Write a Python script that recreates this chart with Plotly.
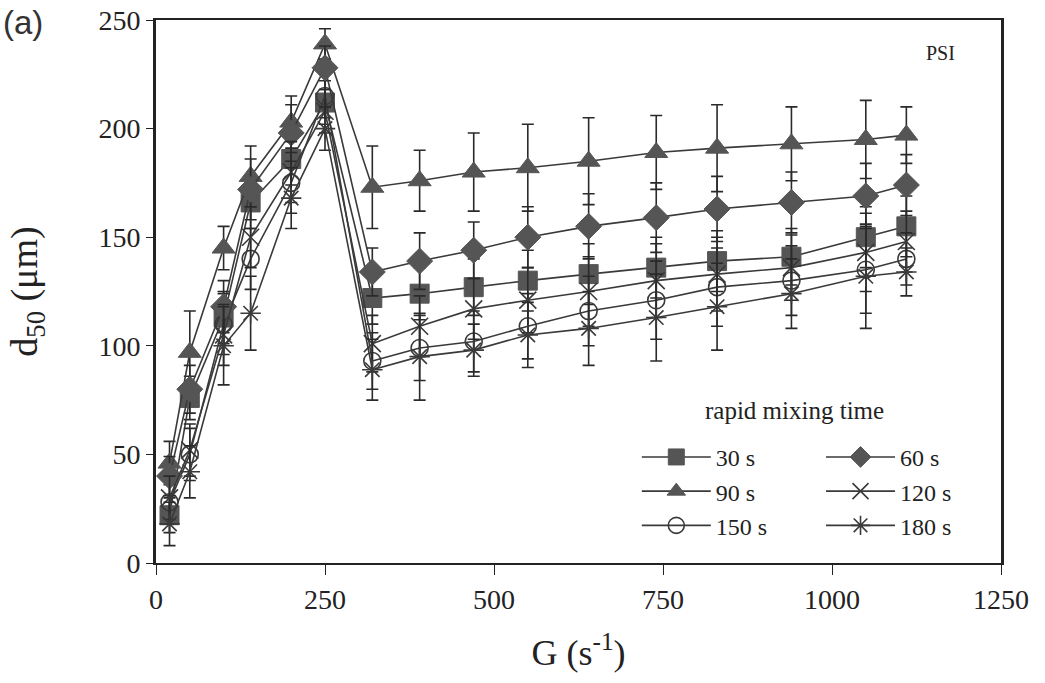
import plotly.graph_objects as go

G = [20, 50, 100, 140, 200, 250, 320, 390, 470, 550, 640, 740, 830, 940, 1050, 1110]

d30 = [22, 76, 113, 166, 186, 212, 122, 124, 127, 130, 133, 136, 139, 141, 150, 155]
e30 = [8, 10, 12, 12, 12, 10, 12, 12, 13, 14, 14, 14, 14, 13, 14, 14]
d60 = [40, 80, 118, 172, 198, 228, 134, 139, 144, 150, 155, 159, 163, 166, 169, 174]
e60 = [9, 11, 12, 14, 13, 10, 11, 13, 13, 14, 15, 16, 15, 14, 15, 14]
d90 = [46, 97, 145, 178, 203, 239, 173, 176, 180, 182, 185, 189, 191, 193, 195, 197]
e90 = [10, 19, 10, 14, 12, 7, 19, 14, 18, 20, 20, 17, 20, 17, 18, 13]
d120 = [30, 52, 105, 150, 180, 208, 101, 109, 117, 121, 125, 130, 133, 136, 143, 148]
e120 = [10, 12, 14, 14, 14, 10, 13, 14, 14, 15, 16, 17, 17, 15, 18, 14]
d150 = [28, 50, 110, 140, 175, 215, 93, 99, 102, 109, 116, 121, 127, 130, 135, 140]
e150 = [10, 12, 14, 14, 14, 10, 13, 15, 14, 15, 16, 18, 18, 16, 20, 12]
d180 = [18, 42, 100, 115, 168, 200, 89, 95, 98, 105, 108, 113, 118, 124, 132, 134]
e180 = [10, 12, 18, 17, 14, 10, 14, 20, 12, 15, 17, 20, 20, 16, 24, 11]

labels = ["30 s", "60 s", "90 s", "120 s", "150 s", "180 s"]

LINE = "#3a3a3a"
FILL = "#555555"
SERIF = "Liberation Serif, Times New Roman, serif"

series = [
    (labels[0], d30, e30, "square", 19, FILL, 1, "legend"),
    (labels[2], d90, e90, "triangle-up", 20, FILL, 1, "legend"),
    (labels[4], d150, e150, "circle-open", 17, LINE, 1.6, "legend"),
    (labels[1], d60, e60, "diamond", 20, FILL, 1, "legend2"),
    (labels[3], d120, e120, "x-thin-open", 17, LINE, 1.6, "legend2"),
    (labels[5], d180, e180, "asterisk-open", 17, LINE, 1.6, "legend2"),
]

fig = go.Figure()
for i, (name, y, e, sym, size, col, lw, leg) in enumerate(series):
    fig.add_trace(go.Scatter(
        x=G, y=y, name=name, mode="lines+markers",
        line=dict(color=LINE, width=1.6),
        marker=dict(symbol=sym, size=size, color=col,
                    line=dict(color=col, width=lw)),
        error_y=dict(type="data", array=e, visible=True,
                     color="#2a2a2a", thickness=1.6, width=6),
        legend=leg, legendgroup="g%d" % i,
    ))

fig.update_layout(
    width=1045, height=683,
    margin=dict(l=156, r=44, t=20, b=120, autoexpand=False),
    paper_bgcolor="white", plot_bgcolor="white",
    font=dict(family=SERIF, color="#222222", size=24),
    xaxis=dict(range=[0, 1250], dtick=250, showgrid=False, zeroline=False,
               showline=True, linecolor="#222222", linewidth=2, mirror=True,
               ticks="outside", ticklen=10, tickcolor="#222222", automargin=False,
               tickfont=dict(family=SERIF, size=28), ticklabeloverflow="allow",
               title=dict(text="G (s<sup>-1</sup>)", font=dict(family=SERIF, size=36),
                          standoff=26)),
    yaxis=dict(range=[0, 250], dtick=50, showgrid=False, zeroline=False,
               showline=True, linecolor="#222222", linewidth=3, mirror=True,
               ticks="outside", ticklen=7, tickcolor="#222222", automargin=False,
               tickfont=dict(family=SERIF, size=28), ticklabeloverflow="allow",
               title=dict(text="d<sub>50</sub> (μm)", font=dict(family=SERIF, size=38),
                          standoff=50)),
    legend=dict(x=0.569, y=0.236, xanchor="left", yanchor="top",
                bgcolor="rgba(0,0,0,0)", font=dict(family=SERIF, size=24),
                traceorder="grouped", tracegroupgap=0, itemwidth=69),
    legend2=dict(x=0.787, y=0.236, xanchor="left", yanchor="top",
                 bgcolor="rgba(0,0,0,0)", font=dict(family=SERIF, size=24),
                 traceorder="grouped", tracegroupgap=0, itemwidth=69),
    annotations=[
        dict(text="(a)", xref="paper", yref="paper", x=-0.184, y=0.996,
             xanchor="left", yanchor="middle", showarrow=False,
             font=dict(family="Liberation Sans", size=33, color="#333333")),
        dict(text="PSI", xref="x", yref="y", x=1160, y=235,
             xanchor="center", yanchor="middle", showarrow=False,
             font=dict(family=SERIF, size=20, color="#222222")),
        dict(text="rapid mixing time", xref="x", yref="y", x=945, y=70,
             xanchor="center", yanchor="middle", showarrow=False,
             font=dict(family=SERIF, size=25, color="#222222")),
    ],
)

fig.write_html("out.html", config={"displayModeBar": False},
               post_script="document.body.style.margin='0';")
